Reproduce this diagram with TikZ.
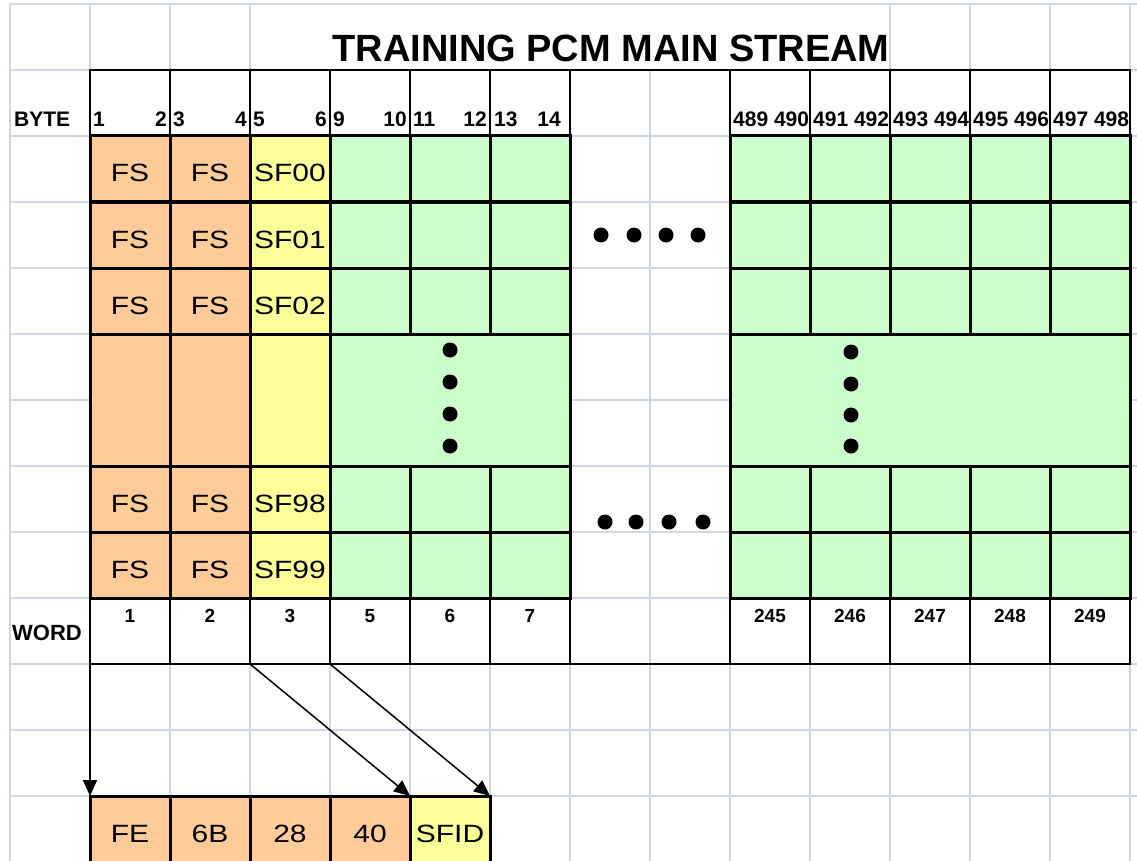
\documentclass[tikz,border=0pt]{standalone}
\usepackage{fontspec}
\setmainfont{Liberation Sans}
\newfontfamily\cellfont[FakeStretch=1.2]{Liberation Sans}
\usetikzlibrary{arrows.meta}
\definecolor{gridgray}{HTML}{D0D7E5}
\definecolor{fsorange}{HTML}{FFCC99}
\definecolor{sfyellow}{HTML}{FFFF99}
\definecolor{datagreen}{HTML}{CCFFCC}

\begin{document}
\begin{tikzpicture}[x=1pt,y=-1pt,
  cell/.style={draw=black, line width=3pt, minimum width=80pt, minimum height=66pt,
    inner sep=0pt, outer sep=0pt, anchor=north west,
    font=\cellfont\fontsize{25pt}{25pt}\selectfont, text height=26pt, text depth=0pt},
  fscell/.style={cell, fill=fsorange},
  sfcell/.style={cell, fill=sfyellow},
  dcell/.style={cell, fill=datagreen},
  hdrcell/.style={draw=black, line width=2pt, minimum width=80pt, minimum height=66pt,
    inner sep=0pt, outer sep=0pt, anchor=north west},
  bytenum/.style={font=\bfseries\fontsize{21pt}{21pt}\selectfont, inner sep=0pt},
  wordnum/.style={font=\bfseries\fontsize{19pt}{19pt}\selectfont, inner sep=0pt, anchor=base},
  gridline/.style={draw=gridgray, line width=1.2pt},
  link/.style={line width=1.5pt, -{Triangle[length=16pt,width=14pt]}}
]
\useasboundingbox (0,0) rectangle (1137,861);
\clip (0,0) rectangle (1137,861);

% sheet grid
\foreach \x in {10,90,...,1130} \draw[gridline] (\x,4) -- (\x,862);
\foreach \y in {4,70,...,862} \draw[gridline] (10,\y) -- (1137,\y);
\fill[white] (251,5) rectangle (889,69);

% title
\node[font=\bfseries\fontsize{38pt}{38pt}\selectfont, inner sep=0pt, anchor=base] (title) at (611,62) {TRAINING PCM MAIN STREAM};

% byte numbers
\node[bytenum, anchor=base west] (bytelbl) at (14,127) {BYTE};
\foreach \k/\a/\b in {0/1/2,1/3/4,2/5/6,3/9/10,4/11/12} {
  \node[bytenum, anchor=base west] (bl\k) at ({93+80*\k},127) {\a};
  \node[bytenum, anchor=base east] (br\k) at ({167+80*\k},127) {\b};
}
\node[bytenum, anchor=base west] (bl5) at (494,127) {13};
\node[bytenum, anchor=base east] (br5) at (561,127) {14};
\foreach \k/\t in {8/489 490,9/491 492,10/493 494,11/495 496,12/497 498}
  \node[bytenum, anchor=base west] (bl\k) at ({93+80*\k},127) {\t};
\foreach \k in {0,...,5,8,9,...,12}
  \node[hdrcell] (byte\k) at ({90+80*\k},70) {};
\draw[line width=2pt] (byte5.north east) -- (byte8.north west);

% frame rows
\foreach \r/\y/\s in {0/136/00,1/202/01,2/268/02,98/466/98,99/532/99} {
  \node[fscell] (fsa\r) at (90,\y) {FS};
  \node[fscell] (fsb\r) at (170,\y) {FS};
  \node[sfcell] (sf\r) at (250,\y) {SF\s};
  \foreach \k in {3,4,5,8,9,...,12}
    \node[dcell] (d\r-\k) at ({90+80*\k},\y) {};
}
% elided rows
\node[fscell, minimum height=132pt] (fsamid) at (90,334) {};
\node[fscell, minimum height=132pt] (fsbmid) at (170,334) {};
\node[sfcell, minimum height=132pt] (sfmid) at (250,334) {};
\node[dcell, minimum width=240pt, minimum height=132pt] (dleftmid) at (330,334) {};
\node[dcell, minimum width=400pt, minimum height=132pt] (drightmid) at (730,334) {};

% ellipsis dots
\foreach \x in {601,634,666,698} \fill (\x,235) circle (7.5pt);
\foreach \x in {605,636,669,703} \fill (\x,522) circle (7.5pt);
\foreach \y in {350,382,414,446} \fill (450,\y) circle (7.5pt);
\foreach \y in {352,384,415,446} \fill (851,\y) circle (7.5pt);

% word numbers
\node[font=\bfseries\fontsize{22pt}{22pt}\selectfont, inner sep=0pt, anchor=base west] (wordlbl) at (12,640) {WORD};
\foreach \k/\t in {0/1,1/2,2/3,3/5,4/6,5/7,8/245,9/246,10/247,11/248,12/249} {
  \node[hdrcell] (w\k) at ({90+80*\k},598) {};
  \node[wordnum] (wn\k) at ({130+80*\k},622) {\t};
}
\draw[line width=2pt] (w5.south east) -- (w8.south west);

% frame sync pattern and subframe id
\node[fscell] (fe) at (90,796) {FE};
\node[fscell] (b6b) at (170,796) {6B};
\node[fscell] (b28) at (250,796) {28};
\node[fscell] (b40) at (330,796) {40};
\node[sfcell] (sfid) at (410,796) {SFID};

\draw[link] (w0.south west) -- (fe.north west);
\draw[link] (w2.south west) -- (b40.north east);
\draw[link] (w3.south west) -- (sfid.north east);
\end{tikzpicture}
\end{document}
